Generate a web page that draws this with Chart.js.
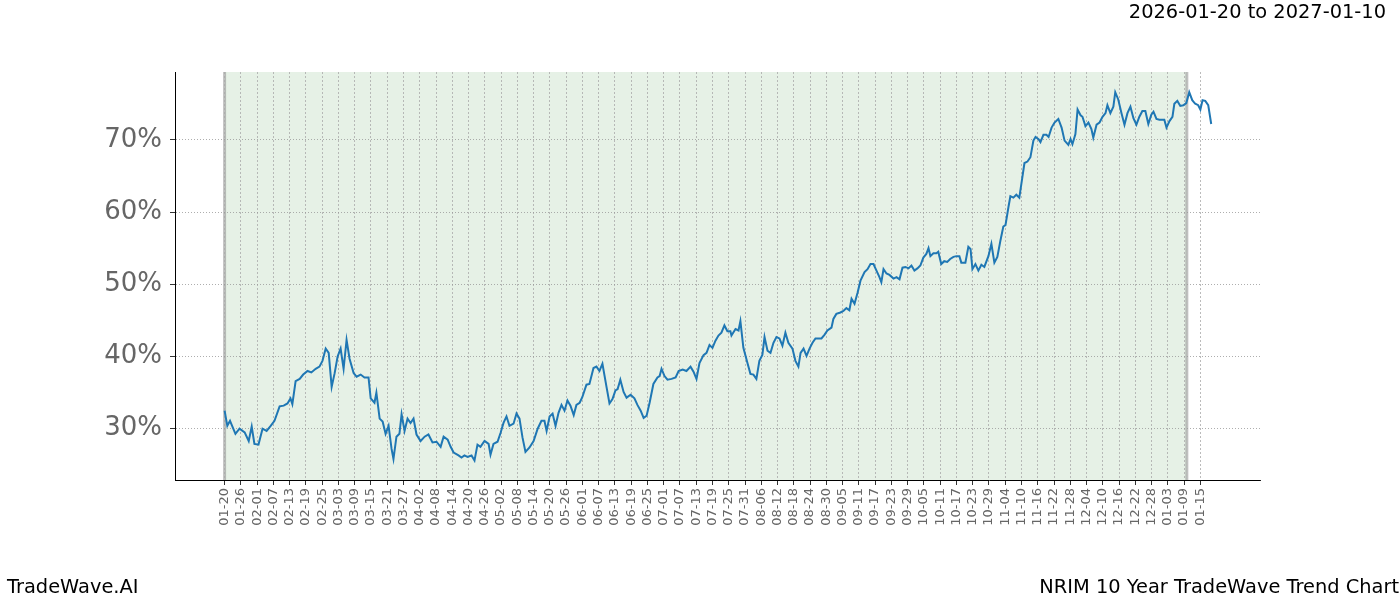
<!DOCTYPE html>
<html>
<head>
<meta charset="utf-8">
<script src="https://cdn.jsdelivr.net/npm/chart.js@4"></script>
<style>
  body { margin: 0; background: #fff; font-family: "DejaVu Sans", sans-serif; }
  #wrap { position: relative; width: 1400px; height: 600px; }
  .txt { position: absolute; font-size: 19.4px; color: #000; }
</style>
</head>
<body>
<div id="wrap">
  <canvas id="chart" width="1400" height="600"></canvas>
  <div class="txt" style="right:14px; top:0px;">2026-01-20 to 2027-01-10</div>
  <div class="txt" style="left:7px; top:575px;">TradeWave.AI</div>
  <div class="txt" style="right:1px; top:575px;">NRIM 10 Year TradeWave Trend Chart</div>
</div>
<script>
// days since 2026-01-20
const days = [0,1,2,4,5.5,7.4,8.9,10,11,12.5,14,15.5,17,18.4,20.3,21.8,23.2,24.3,25,26.2,27.7,29,30.6,32,33.6,35,36.1,37.3,38.4,39.5,40.6,41.7,42.8,43.9,45,46.1,47.6,48.7,50.2,51.6,53.1,53.9,55.3,56,57.2,58.3,59.4,60.5,61.6,62.3,63.4,64.5,65.3,66.4,67.5,68.6,69.7,70.8,72.3,73.8,75.2,76.7,78.2,79.7,80.8,82.3,83.4,84.5,86.3,87.4,88.5,89.6,91.1,92.2,93.3,94.4,95.9,97.4,98.1,99.2,100.7,101.8,102.9,104,105.1,106.6,107.7,108.8,109.9,111,112.5,114,115.5,116.9,118,118.8,119.9,121,122.1,123.2,124.3,125.4,126.5,127.6,128.8,129.8,131,132,133.5,134.6,136.1,137.2,138.3,139.4,140.9,142,143.1,144.2,145,146,147.2,148.3,149.8,151.2,152.3,153.5,154.6,155.7,156.8,158.2,159.7,160.5,161.2,162.3,163.4,164.9,166.4,167.5,169,170.4,171.9,173,174.1,175.2,176.7,177.8,178.9,180,181.1,182.2,183.3,184.4,185.5,186.6,187,188.5,189.6,190.3,191.4,192.9,194,195.1,196.2,197.3,198.4,199.2,200.3,201.4,202.5,203.6,204.7,205.8,206.9,208,209.5,210.6,211.7,212.5,213.6,214.7,215.8,216.9,218,219.1,220.2,221.3,222.4,223.9,224.6,225.7,227.2,228.3,229.4,230.5,231.3,232.4,233.5,234.6,236.1,237.2,238.3,239.4,240.5,241.6,242.3,243.1,244.2,245.3,246.8,247.9,249,250.1,251.2,252.3,253.4,254.5,255.6,256.7,257.8,258.9,259.7,260.4,261.5,262.6,263.3,264.4,265.5,266.6,267.7,268.9,270,271.1,271.8,273.3,274.4,275.2,275.9,277,278.1,279.2,280.3,281.8,282.9,284,285.1,286.2,287.3,288.1,289.2,289.9,291,292.1,293.2,294,295.1,296.2,297.3,298.4,299.2,300.3,301,302.1,303.2,304,305.1,306.2,307.6,308.8,309.9,311.3,312.1,312.8,313.9,314.7,315.8,316.5,317.6,318.7,319.8,320.5,321.7,322.8,323.9,325,325.7,326.8,327.9,328.6,329.7,330.9,332,333.1,334.2,335.3,336.4,337.5,338.6,339.7,340.8,341.9,342.7,343.8,344.9,346,346.7,347.5,348.6,349.7,350.4,351.5,352.6,353.7,354.8,355.9,357,358.1,359.2,360,360.8,361.8,362.9,364];
const values = [32.5,30.4,31.1,29.3,30,29.5,28.3,30.3,27.9,27.8,30,29.7,30.4,31.1,33.1,33.2,33.5,34.2,33.4,36.6,36.9,37.5,38,37.8,38.3,38.6,39.4,41.1,40.5,35.8,37.7,40,41.1,38.3,42.3,39.7,37.7,37.2,37.5,37.1,37.1,34.2,33.6,35,31.4,31,29.3,30.4,27.2,25.8,28.9,29.3,32,29.7,31.4,30.8,31.4,29.2,28.3,28.9,29.2,28.1,28.2,27.5,28.9,28.5,27.5,26.7,26.3,26,26.3,26.1,26.3,25.6,27.8,27.5,28.3,27.9,26.4,27.9,28.2,29.4,30.8,31.7,30.4,30.7,32.1,31.4,28.8,26.8,27.4,28.3,30,31.1,31.1,29.7,31.7,32.1,30.4,32.2,33.3,32.5,33.9,33.2,31.9,33.3,33.6,34.4,36.1,36.2,38.4,38.6,38,39,35.8,33.5,34.1,35.3,35.5,36.8,35.1,34.3,34.7,34.2,33.3,32.5,31.5,31.8,33.6,36.2,37.1,37.3,38.3,37.3,36.8,36.9,37.1,38,38.2,38,38.6,37.9,36.9,39.1,40.2,40.5,41.6,41.2,42.2,42.9,43.3,44.3,43.5,43.5,42.9,43.8,43.6,44.9,41.2,39.1,37.6,37.5,36.9,39.4,40.2,42.7,40.8,40.5,41.9,42.7,42.5,41.5,43.3,41.9,41.1,39.4,38.6,40.5,41.1,40.1,41.1,41.9,42.5,42.5,42.5,43,43.6,44,45.2,45.9,46.1,46.3,46.7,46.4,48,47.3,48.8,50.5,51.7,52.1,52.8,52.8,51.9,51,50.3,52.1,51.5,51.3,50.8,51,50.7,52.3,52.4,52.2,52.6,51.9,52.2,52.6,53.7,54.2,55,53.9,54.3,54.3,54.5,52.8,53.2,53.1,53.5,53.8,53.9,53.9,53,53,55.2,54.9,52.1,52.8,51.9,52.7,52.4,53.9,55.6,53,53.8,56,58,58.2,60.7,62.2,62,62.4,62,64,66.8,67,67.6,69.9,70.4,70.1,69.7,70.7,70.7,70.4,71.7,72.4,72.9,71.7,69.9,69.3,70.1,69.4,70.8,74.2,73.4,73.2,71.9,72.4,71.5,70.3,72.1,72.4,73.2,73.7,74.8,73.7,74.6,76.6,75.6,73.7,72.1,73.7,74.6,73,72.1,73.2,74,74,72.2,73.5,73.9,72.9,72.8,72.8,72.8,71.7,72.6,73.2,75,75.4,74.7,74.8,75.1,76.6,75.5,75,74.8,74.2,75.5,75.4,74.8,72.2];
const tickDays = Array.from({ length: 61 }, (_, i) => i * 6);
const tickLabels = ['01-20','01-26','02-01','02-07','02-13','02-19','02-25','03-03','03-09','03-15','03-21','03-27','04-02','04-08','04-14','04-20','04-26','05-02','05-08','05-14','05-20','05-26','06-01','06-07','06-13','06-19','06-25','07-01','07-07','07-13','07-19','07-25','07-31','08-06','08-12','08-18','08-24','08-30','09-05','09-11','09-17','09-23','09-29','10-05','10-11','10-17','10-23','10-29','11-04','11-10','11-16','11-22','11-28','12-04','12-10','12-16','12-22','12-28','01-03','01-09','01-15'];
const yTicks = [30, 40, 50, 60, 70];
const shadeStart = 0, shadeEnd = 355;

const shade = {
  id: 'shade',
  beforeDraw(chart) {
    const { ctx, chartArea, scales } = chart;
    const x0 = scales.x.getPixelForValue(shadeStart);
    const x1 = scales.x.getPixelForValue(shadeEnd);
    ctx.save();
    ctx.fillStyle = 'rgba(46,139,46,0.12)';
    ctx.fillRect(x0, chartArea.top, x1 - x0, chartArea.bottom - chartArea.top);
    ctx.strokeStyle = 'rgba(150,150,150,0.6)';
    ctx.lineWidth = 3;
    [x0, x1].forEach(x => {
      ctx.beginPath(); ctx.moveTo(x, chartArea.top); ctx.lineTo(x, chartArea.bottom); ctx.stroke();
    });
    ctx.restore();
  }
};

new Chart(document.getElementById('chart'), {
  type: 'line',
  data: {
    datasets: [{
      data: days.map((d, i) => ({ x: d, y: values[i] })),
      borderColor: '#1f77b4',
      borderWidth: 2,
      pointRadius: 0,
      tension: 0
    }]
  },
  options: {
    responsive: false,
    animation: false,
    layout: { padding: { top: 72, right: 140, left: 0, bottom: 0 } },
    plugins: { legend: { display: false }, tooltip: { enabled: false } },
    scales: {
      x: {
        type: 'linear', min: -18.3, max: 382,
        afterBuildTicks: s => { s.ticks = tickDays.map(v => ({ value: v })); },
        afterFit: s => { s.height = 120; },
        ticks: {
          autoSkip: false, maxRotation: 90, minRotation: 90,
          color: '#666', font: { size: 13, family: 'DejaVu Sans' },
          callback: (v, i) => tickLabels[i]
        },
        grid: { color: '#aaa', lineWidth: 0.8, tickLength: 5, tickColor: '#000' },
        border: { display: true, color: '#000', width: 1, dash: [2, 2] }
      },
      y: {
        min: 22.9, max: 79.4,
        afterBuildTicks: s => { s.ticks = yTicks.map(v => ({ value: v })); },
        afterFit: s => { s.width = 175; },
        ticks: {
          color: '#666', font: { size: 26, family: 'DejaVu Sans' }, padding: 8,
          callback: v => v + '%'
        },
        grid: { color: '#999', lineWidth: 0.8, tickLength: 5, tickColor: '#000' },
        border: { display: true, color: '#000', width: 1, dash: [1, 2] }
      }
    }
  },
  plugins: [shade]
});
</script>
</body>
</html>
